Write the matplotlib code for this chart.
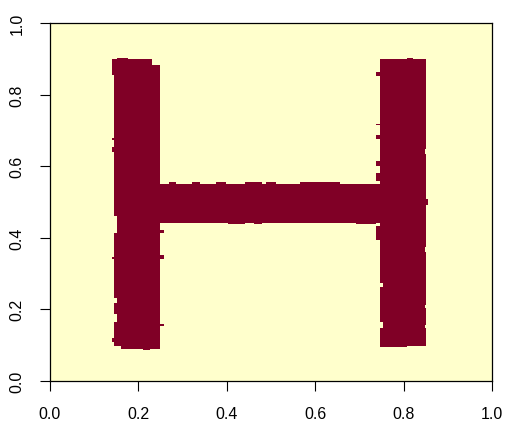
import matplotlib.pyplot as plt
import numpy as np
from matplotlib.colors import ListedColormap

plt.rcParams['font.family'] = ['Liberation Sans', 'DejaVu Sans']

n = 256  # matrix size (cells per side)

# filled regions of the "H": (x0, x1, y0, y1)
add_rects = [
    (0.145, 0.251, 0.097, 0.897),   # left bar
    (0.747, 0.851, 0.097, 0.897),   # right bar
    (0.251, 0.747, 0.441, 0.550),   # cross bar
    (0.152, 0.177, 0.897, 0.904),   # left bar top bump
    (0.810, 0.822, 0.897, 0.904),   # right bar top bump
    (0.139, 0.145, 0.855, 0.897),
    (0.139, 0.145, 0.672, 0.680),
    (0.139, 0.145, 0.640, 0.652),
    (0.139, 0.145, 0.340, 0.346),
    (0.139, 0.145, 0.109, 0.123),
    (0.161, 0.251, 0.091, 0.097),
    (0.210, 0.226, 0.086, 0.091),
    (0.251, 0.256, 0.413, 0.420),
    (0.251, 0.256, 0.340, 0.352),
    (0.251, 0.256, 0.152, 0.160),
    (0.740, 0.747, 0.851, 0.862),
    (0.740, 0.747, 0.713, 0.718),
    (0.740, 0.747, 0.676, 0.687),
    (0.740, 0.747, 0.600, 0.612),
    (0.740, 0.747, 0.560, 0.582),
    (0.740, 0.747, 0.394, 0.433),
    (0.851, 0.857, 0.492, 0.508),
    (0.851, 0.857, 0.100, 0.097),
    (0.747, 0.810, 0.094, 0.097),
    (0.268, 0.285, 0.550, 0.555),
    (0.320, 0.340, 0.550, 0.555),
    (0.375, 0.400, 0.550, 0.555),
    (0.440, 0.480, 0.550, 0.555),
    (0.490, 0.510, 0.550, 0.555),
    (0.565, 0.655, 0.550, 0.555),
    (0.402, 0.440, 0.436, 0.441),
    (0.462, 0.480, 0.436, 0.441),
    (0.692, 0.738, 0.436, 0.441),
]

# gaps cut out of the shape: (x0, x1, y0, y1)
cut_rects = [
    (0.231, 0.251, 0.882, 0.897),
    (0.145, 0.152, 0.416, 0.461),
    (0.145, 0.152, 0.165, 0.187),
    (0.145, 0.152, 0.220, 0.232),
    (0.846, 0.851, 0.632, 0.648),
    (0.846, 0.851, 0.360, 0.375),
    (0.846, 0.851, 0.205, 0.212),
    (0.846, 0.851, 0.150, 0.156),
    (0.747, 0.752, 0.150, 0.165),
    (0.747, 0.752, 0.262, 0.272),
]

xc = (np.arange(n) + 0.5) / n
X, Y = np.meshgrid(xc, xc)
z = np.zeros((n, n))
for x0, x1, y0, y1 in add_rects:
    z[(X >= x0) & (X < x1) & (Y >= y0) & (Y < y1)] = 1
for x0, x1, y0, y1 in cut_rects:
    z[(X >= x0) & (X < x1) & (Y >= y0) & (Y < y1)] = 0

fig = plt.figure(figsize=(5.06, 4.27), dpi=100)
ax = fig.add_axes([50 / 506, 45 / 427, 442 / 506, 358 / 427])
cmap = ListedColormap(['#FFFFCC', '#800026'])
ax.imshow(z, origin='lower', extent=[0, 1, 0, 1], cmap=cmap,
          interpolation='nearest', aspect='auto')
ax.set_xlim(0, 1)
ax.set_ylim(0, 1)
ticks = [0, 0.2, 0.4, 0.6, 0.8, 1.0]
ax.set_xticks(ticks)
ax.set_yticks(ticks)
ax.set_xticklabels([f"{t:.1f}" for t in ticks])
ax.set_yticklabels([f"{t:.1f}" for t in ticks], rotation=90, va='center')
ax.tick_params(direction='out', length=7.2, width=0.8, labelsize=11.5, pad=11)
for s in ax.spines.values():
    s.set_linewidth(0.9)

plt.savefig("out.png", dpi=100)
